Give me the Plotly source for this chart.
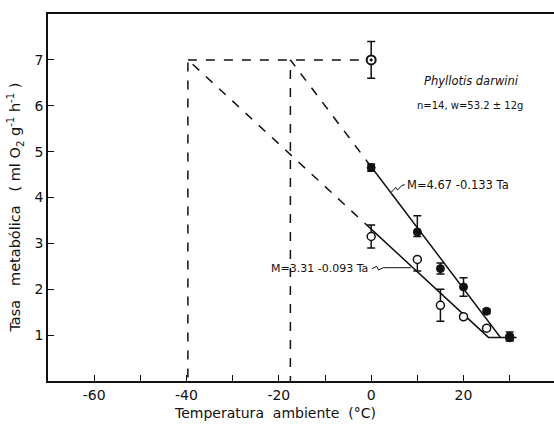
import plotly.graph_objects as go

# --- data ---
temps = [0, 10, 15, 20, 25, 30]
upper_mean = [4.65, 3.25, 2.45, 2.05, 1.52, 0.97]
upper_err_plus = [0.08, 0.35, 0.12, 0.2, 0.05, 0.1]
upper_err_minus = [0.08, 0.1, 0.12, 0.2, 0.05, 0.1]
lower_mean = [3.15, 2.65, 1.65, 1.4, 1.15, 0.95]
lower_err_plus = [0.25, 0.0, 0.35, 0.05, 0.05, 0.05]
lower_err_minus = [0.25, 0.25, 0.35, 0.05, 0.05, 0.05]
top_x = [0]
top_y = [7.0]
top_err = [0.4]

# fitted lines (solid part) and extrapolations (dashed part)
fit_upper_x = [0, 28.0, 31.5]
fit_upper_y = [4.67, 0.95, 0.95]
fit_lower_x = [0, 25.4, 28.0]
fit_lower_y = [3.31, 0.95, 0.95]
ext_upper_x = [0, -17.5, -17.5]
ext_upper_y = [4.67, 7.0, 0.0]
ext_lower_x = [0, -39.7, -39.7]
ext_lower_y = [3.31, 7.0, 0.0]
ext_top_x = [-39.7, 0]
ext_top_y = [7.0, 7.0]

x_ticks = [-60, -50, -40, -30, -20, -10, 0, 10, 20, 30]
x_tick_text = ["-60", "", "-40", "", "-20", "", "0", "", "20", ""]
y_ticks = [1, 2, 3, 4, 5, 6, 7]

FONT = "DejaVu Sans"
BLACK = "#111111"

fig = go.Figure()

def line(x, y, dash="solid", w=1.5):
    fig.add_trace(go.Scatter(x=x, y=y, mode="lines",
                             line=dict(color=BLACK, width=w, dash=dash),
                             hoverinfo="skip", showlegend=False))

line(ext_upper_x, ext_upper_y, "dash")
line(ext_lower_x, ext_lower_y, "dash")
line(ext_top_x, ext_top_y, "dash")
line(fit_upper_x, fit_upper_y)
line(fit_lower_x, fit_lower_y)

# leaders for equations (small zigzags)
line([4.4, 5.3, 5.7, 6.6, 7.3], [4.12, 4.22, 4.16, 4.26, 4.28], w=1)
line([0.2, 1.2, 1.6, 2.6, 8.6], [2.45, 2.50, 2.42, 2.47, 2.47], w=1)

# open circles (lower series)
fig.add_trace(go.Scatter(
    x=temps, y=lower_mean, mode="markers",
    marker=dict(symbol="circle", size=8, color="white",
                line=dict(color=BLACK, width=1.5)),
    error_y=dict(type="data", symmetric=False, array=lower_err_plus,
                 arrayminus=lower_err_minus, color=BLACK, thickness=1.5, width=4),
    showlegend=False))

# filled circles (upper series)
fig.add_trace(go.Scatter(
    x=temps, y=upper_mean, mode="markers",
    marker=dict(symbol="circle", size=8, color=BLACK,
                line=dict(color=BLACK, width=1)),
    error_y=dict(type="data", symmetric=False, array=upper_err_plus,
                 arrayminus=upper_err_minus, color=BLACK, thickness=1.5, width=4),
    showlegend=False))

# top point
fig.add_trace(go.Scatter(
    x=top_x, y=top_y, mode="markers",
    marker=dict(symbol="circle-dot", size=9, color="white",
                line=dict(color=BLACK, width=2)),
    error_y=dict(type="data", array=top_err, color=BLACK, thickness=1.5, width=4),
    showlegend=False))

ann_font = dict(family=FONT, size=11.5, color=BLACK)
fig.add_annotation(x=7.4, y=4.28, text="M=4.67 -0.133 Ta", showarrow=False,
                   xanchor="left", yanchor="middle", font=ann_font)
fig.add_annotation(x=-0.2, y=2.45, text="M=3.31 -0.093 Ta", showarrow=False,
                   xanchor="right", yanchor="middle", font=dict(family=FONT, size=11, color=BLACK))
fig.add_annotation(x=11.0, y=6.55, text="<i>Phyllotis darwini</i>", showarrow=False,
                   xanchor="left", yanchor="middle", font=dict(family=FONT, size=11.5, color=BLACK))
fig.add_annotation(x=9.4, y=6.0, text="n=14, w=53.2 ± 12g", showarrow=False,
                   xanchor="left", yanchor="middle", font=dict(family=FONT, size=10, color=BLACK))

# axis titles
fig.add_annotation(xref="x", yref="paper", x=-20.8, y=0, yshift=-32,
                   text="Temperatura  ambiente  (°C)", showarrow=False,
                   xanchor="center", yanchor="middle",
                   font=dict(family=FONT, size=14, color=BLACK))
fig.add_annotation(xref="paper", yref="y", x=0, y=3.78, xshift=-33,
                   text="Tasa   metabólica   ( ml O<sub>2</sub> g<sup>-1</sup> h<sup>-1</sup> )",
                   textangle=-90, showarrow=False,
                   xanchor="center", yanchor="middle",
                   font=dict(family=FONT, size=14.5, color=BLACK))

fig.update_layout(
    width=554, height=425,
    margin=dict(l=48, r=0, t=14, b=44, autoexpand=False),
    paper_bgcolor="white", plot_bgcolor="white",
    font=dict(family=FONT, size=13, color=BLACK),
    xaxis=dict(range=[-70, 39.6], tickvals=x_ticks, ticktext=x_tick_text,
               ticks="inside", ticklen=6, tickwidth=1.2, tickcolor=BLACK,
               showline=True, linecolor=BLACK, linewidth=1.5, mirror=True,
               showgrid=False, zeroline=False, automargin=False,
               tickfont=dict(size=14)),
    yaxis=dict(range=[0, 8], tickvals=y_ticks,
               ticks="inside", ticklen=6, tickwidth=1.2, tickcolor=BLACK,
               showline=True, linecolor=BLACK, linewidth=1.5,
               showgrid=False, zeroline=False, automargin=False,
               tickfont=dict(size=14)),
)

fig.write_html(
    "out.html",
    config={"displayModeBar": False},
    post_script="document.body.style.margin='0';document.body.style.overflow='hidden';",
)
